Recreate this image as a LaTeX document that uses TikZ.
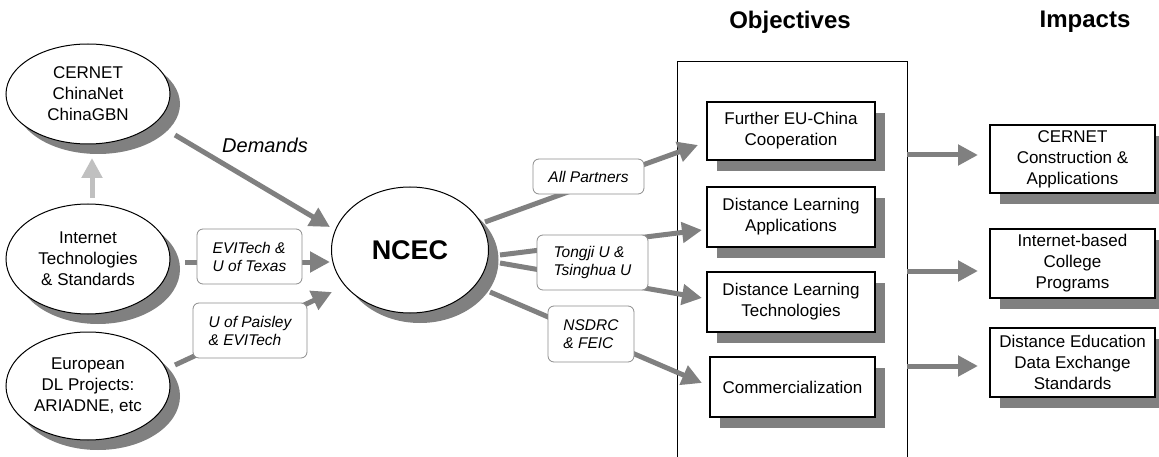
\documentclass[tikz,border=0pt]{standalone}
\usepackage{fontspec}
\setmainfont{Liberation Sans}
\usetikzlibrary{arrows.meta,shapes.geometric,shadows}
\definecolor{arrgray}{HTML}{808080}
\definecolor{lightarr}{HTML}{C0C0C0}
\definecolor{shgray}{HTML}{808080}
\definecolor{labgray}{HTML}{8C8C8C}
\begin{document}
\begin{tikzpicture}[x=1pt,y=-1pt,
  oval/.style={ellipse, draw=black, line width=1pt, fill=white, inner sep=0pt, align=center,
    font=\fontsize{17}{21}\selectfont,
    drop shadow={shadow xshift=10pt, shadow yshift=-10pt, fill=shgray, opacity=1}},
  objbox/.style={rectangle, draw=black, line width=1.2pt, fill=white, inner sep=0pt, align=center,
    font=\fontsize{17}{21}\selectfont,
    drop shadow={shadow xshift=10pt, shadow yshift=-11pt, fill=shgray, opacity=1}},
  labbox/.style={rectangle, rounded corners=6pt, draw=labgray, line width=0.8pt, fill=white,
    inner sep=0pt, align=left, font=\fontsize{15.5}{18}\selectfont\itshape},
  bigarr/.style={draw=arrgray, line width=5pt, -{Triangle[length=20pt,width=20pt]}},
  lightarrow/.style={draw=lightarr, line width=5pt, -{Triangle[length=20pt,width=20pt]}},
  title/.style={font=\fontsize{24}{28}\selectfont\bfseries}
]
\useasboundingbox (0,0) rectangle (1159,457);

% ellipses
\node[oval, minimum width=164pt, minimum height=100pt] (e1) at (88,94) {CERNET\\ChinaNet\\ChinaGBN};
\node[oval, minimum width=164pt, minimum height=110pt] (e2) at (88,259) {Internet\\Technologies\\\& Standards};
\node[oval, minimum width=164pt, minimum height=108pt] (e3) at (88,386) {European\\DL Projects:\\ARIADNE, etc};
\node[oval, minimum width=157pt, minimum height=126pt, font=\fontsize{27}{30}\selectfont\bfseries] (ncec) at (410,250) {NCEC};

% titles
\node[title] (objt) at (790,22) {Objectives};
\node[title] (impt) at (1085,22) {Impacts};

% frame
\node[draw=black, line width=1pt, minimum width=230pt, minimum height=420pt, inner sep=0pt] (frame) at (792,272) {};

% objectives
\node[objbox, minimum width=168pt, minimum height=58pt] (o1) at (791,131) {Further EU-China\\Cooperation};
\node[objbox, minimum width=168pt, minimum height=60pt] (o2) at (791,217) {Distance Learning\\Applications};
\node[objbox, minimum width=168pt, minimum height=60pt] (o3) at (791,302) {Distance Learning\\Technologies};
\node[objbox, minimum width=165pt, minimum height=60pt] (o4) at (792.5,387) {Commercialization};

% impacts
\node[objbox, minimum width=165pt, minimum height=68pt] (i1) at (1072.5,159) {CERNET\\Construction \&\\Applications};
\node[objbox, minimum width=165pt, minimum height=69pt] (i2) at (1072.5,263.5) {Internet-based\\College\\Programs};
\node[objbox, minimum width=165pt, minimum height=69pt] (i3) at (1072.5,362.5) {Distance Education\\Data Exchange\\Standards};

% connector end points
\coordinate (lA) at (92,198);   \coordinate (lB) at (92,158);
\coordinate (dA) at (175,135);  \coordinate (dB) at (330,227);
\coordinate (eA) at (185,262);  \coordinate (eB) at (330,262);
\coordinate (pA) at (175,365);  \coordinate (pB) at (332,292);
\coordinate (aA) at (485,222);  \coordinate (aB) at (698,145);
\coordinate (tA) at (500,255);  \coordinate (tB) at (702,230);
\coordinate (uA) at (500,263);  \coordinate (uB) at (702,298);
\coordinate (nA) at (490,292);  \coordinate (nB) at (702,383);
\coordinate (m1A) at (907,155); \coordinate (m1B) at (978,155);
\coordinate (m2A) at (907,271); \coordinate (m2B) at (978,271);
\coordinate (m3A) at (907,366); \coordinate (m3B) at (978,366);

% connectors
\draw[lightarrow] (lA) -- (lB);
\draw[bigarr] (dA) -- (dB);
\draw[bigarr] (eA) -- (eB);
\draw[bigarr] (pA) -- (pB);
\draw[bigarr] (aA) -- (aB);
\draw[bigarr] (tA) -- (tB);
\draw[bigarr] (uA) -- (uB);
\draw[bigarr] (nA) -- (nB);
\draw[bigarr] (m1A) -- (m1B);
\draw[bigarr] (m2A) -- (m2B);
\draw[bigarr] (m3A) -- (m3B);

% labels
\node[font=\fontsize{20}{24}\selectfont\itshape] (dem) at (265,145) {Demands};
\node[labbox, minimum width=105pt, minimum height=55pt] (l1) at (249.5,256.5) {EVITech \&\\U of Texas};
\node[labbox, minimum width=114pt, minimum height=55pt] (l2) at (250,330.5) {U of Paisley\\\& EVITech};
\node[labbox, minimum width=111pt, minimum height=35pt] (l3) at (588.5,176.5) {All Partners};
\node[labbox, minimum width=111pt, minimum height=55pt] (l4) at (592.5,262.5) {Tongji U \&\\Tsinghua U};
\node[labbox, minimum width=86pt, minimum height=56pt] (l5) at (591,334) {NSDRC\\\& FEIC};
\end{tikzpicture}
\end{document}
